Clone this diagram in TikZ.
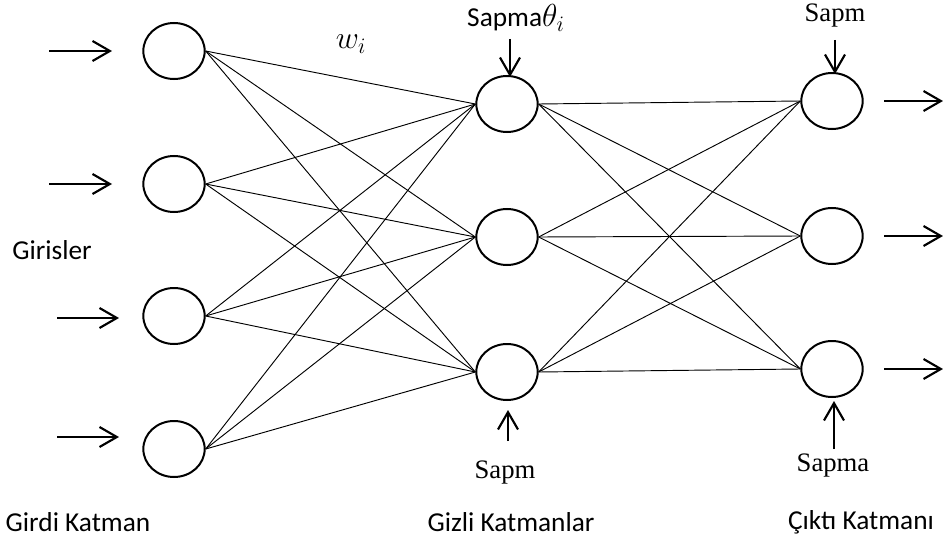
\documentclass[tikz,border=0pt]{standalone}
\usepackage{fontspec}
\setmainfont{Carlito}
\newfontfamily\tmsfont{Liberation Serif}
\usetikzlibrary{arrows.meta,shapes.geometric}
\begin{document}
\begin{tikzpicture}[x=0.75pt,y=-0.75pt,
  neuron/.style={draw,line width=1.5pt,ellipse,minimum width=46pt,minimum height=42pt,inner sep=0pt},
  link/.style={line width=0.7pt},
  feed/.style={line width=1.6pt,-{Straight Barb[length=13pt,width=15pt,line width=1.6pt]}},
  sans/.style={font=\fontsize{20.5}{24}\selectfont},
  serif/.style={font=\tmsfont\fontsize{20}{24}\selectfont}]
\useasboundingbox (0,0) rectangle (943,542);
% input layer
\node[neuron] (i1) at (174,51) {};
\node[neuron] (i2) at (174,184) {};
\node[neuron] (i3) at (174,316) {};
\node[neuron] (i4) at (174,449) {};
% hidden layer
\node[neuron] (h1) at (507,104) {};
\node[neuron] (h2) at (507,237) {};
\node[neuron] (h3) at (507,372) {};
% output layer
\node[neuron] (o1) at (832,101) {};
\node[neuron] (o2) at (832,236) {};
\node[neuron] (o3) at (832,369) {};
% fully connected weights
\foreach \a in {i1,i2,i3,i4}
  \foreach \b in {h1,h2,h3}
    \draw[link] (\a.east) -- (\b.west);
\foreach \a in {h1,h2,h3}
  \foreach \b in {o1,o2,o3}
    \draw[link] (\a.east) -- (\b.west);
% input arrows
\coordinate (s1) at (49,51);  \coordinate (e1) at (112,51);
\coordinate (s2) at (49,184); \coordinate (e2) at (112,184);
\coordinate (s3) at (57,318); \coordinate (e3) at (119,318);
\coordinate (s4) at (57,437); \coordinate (e4) at (119,437);
\foreach \k in {1,2,3,4} \draw[feed] (s\k) -- (e\k);
% output arrows
\coordinate (u1) at (884,101); \coordinate (t1) at (943,101);
\coordinate (u2) at (884,236); \coordinate (t2) at (943,236);
\coordinate (u3) at (884,369); \coordinate (t3) at (943,369);
\foreach \k in {1,2,3} \draw[feed] (u\k) -- (t\k);
% bias inputs
\coordinate (bh1) at (510,39);  \coordinate (ch1) at (510,77);
\coordinate (bh3) at (508,441); \coordinate (ch3) at (508,410);
\coordinate (bo1) at (835,40);  \coordinate (co1) at (835,74);
\coordinate (bo3) at (834,449); \coordinate (co3) at (834,401);
\draw[feed] (bh1) -- (ch1);
\draw[feed] (bh3) -- (ch3);
\draw[feed] (bo1) -- (co1);
\draw[feed] (bo3) -- (co3);
% labels
\node[sans] (lb1) at (516,18) {Sapma$\scalebox{1.15}{$\theta_i$}$};
\node[serif] (lb2) at (835,16) {Sapm};
\node[serif] (lb3) at (505,473) {Sapm};
\node[serif] (lb4) at (833,466) {Sapma};
\node[sans] (lw) at (351,44) {$\scalebox{1.15}{$w_i$}$};
\node[sans] (lgi) at (52,250) {Girisler};
\node[sans] (lgk) at (78,522) {Girdi Katman};
\node[sans] (lhk) at (511,522) {Gizli Katmanlar};
\node[sans] (lok) at (861,522) {Çıktı Katmanı};
\end{tikzpicture}
\end{document}
